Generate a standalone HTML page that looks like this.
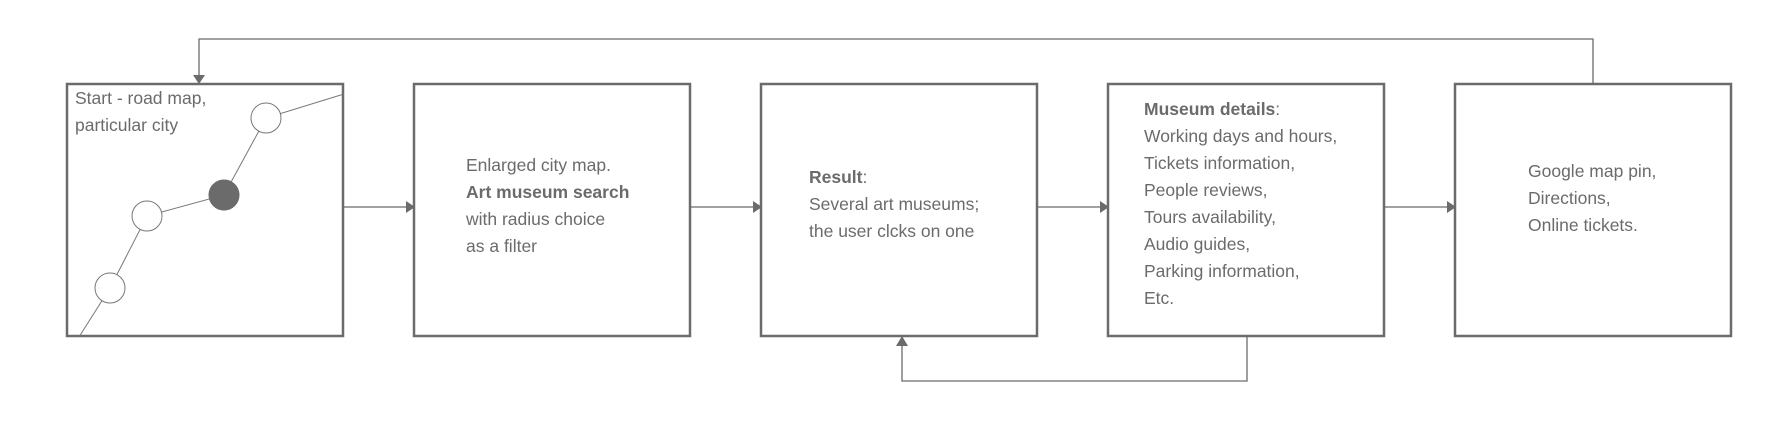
<!DOCTYPE html>
<html><head><meta charset="utf-8"><style>
html,body{margin:0;padding:0;background:#fff;}
body{width:1792px;height:422px;position:relative;overflow:hidden;font-family:"Liberation Sans",sans-serif;color:#6b6b6b;}
.t{position:absolute;font-size:17.5px;line-height:27px;white-space:nowrap;}
b{font-weight:bold;}
</style></head><body>
<svg width="1792" height="422" style="position:absolute;left:0;top:0">
<g fill="none" stroke="#6b6b6b" stroke-width="2.5">
<rect x="67" y="84" width="276" height="252"/>
<rect x="414" y="84" width="276" height="252"/>
<rect x="761" y="84" width="276" height="252"/>
<rect x="1108" y="84" width="276" height="252"/>
<rect x="1455" y="84" width="276" height="252"/>
</g>
<g stroke="#6b6b6b" stroke-width="1.3" fill="none">
<line x1="344" y1="207" x2="406" y2="207"/>
<line x1="691" y1="207" x2="753" y2="207"/>
<line x1="1038" y1="207" x2="1100" y2="207"/>
<line x1="1385" y1="207" x2="1447" y2="207"/>
<polyline points="1593,84 1593,39 199,39 199,76"/>
<polyline points="1247,337 1247,381 902,381 902,346"/>
</g>
<g fill="#6b6b6b">
<polygon points="406,201 415,207 406,213"/>
<polygon points="753,201 762,207 753,213"/>
<polygon points="1100,201 1109,207 1100,213"/>
<polygon points="1447,201 1456,207 1447,213"/>
<polygon points="193,75 205,75 199,84"/>
<polygon points="896,346 908,346 902,336"/>
</g>
<g stroke="#777" stroke-width="1" fill="#fff">
<polyline points="344,94 266,118 224,195 147,216 110,288 79,337" fill="none"/>
<ellipse cx="266" cy="118" rx="15" ry="15"/>
<ellipse cx="147" cy="216" rx="15" ry="15"/>
<ellipse cx="110" cy="288" rx="15" ry="15"/>
<ellipse cx="224" cy="195" rx="15" ry="15" fill="#6b6b6b" stroke="#6b6b6b"/>
</g>
</svg>
<div class="t" style="left:75px;top:85px">Start - road map,<br>particular city</div>
<div class="t" style="left:466px;top:152px">Enlarged city map.<br><b>Art museum search</b><br>with radius choice<br>as a filter</div>
<div class="t" style="left:809px;top:164px"><b>Result</b>:<br>Several art museums;<br>the user clcks on one</div>
<div class="t" style="left:1144px;top:96px"><b>Museum details</b>:<br>Working days and hours,<br>Tickets information,<br>People reviews,<br>Tours availability,<br>Audio guides,<br>Parking information,<br>Etc.</div>
<div class="t" style="left:1528px;top:158px">Google map pin,<br>Directions,<br>Online tickets.</div>
</body></html>
